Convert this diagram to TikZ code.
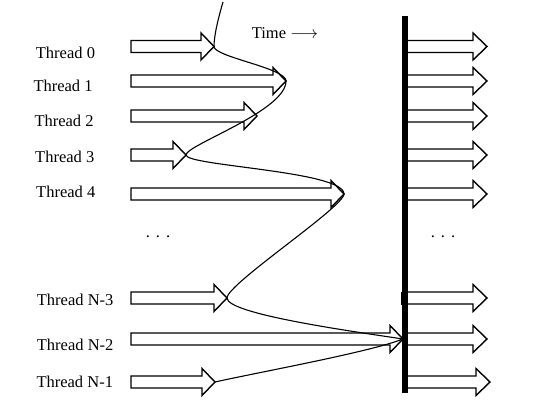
\documentclass[tikz,border=0pt]{standalone}
\usepackage{fontspec}
\setmainfont{Liberation Serif}
\usepackage{tikz}

\begin{document}
\begin{tikzpicture}[x=1pt,y=1pt,
	fat/.style={line width=1.4pt, line join=miter},
	lbl/.style={anchor=base west, inner sep=0pt, font=\fontsize{16.5}{18}\selectfont}]
	\useasboundingbox (0,0) rectangle (534,409);
	
	% the barrier
	\fill (402,16) rectangle (408,393);
	\fill (400.5,104) rectangle (402,117);
	
	% name/centre y/left tip/right tip/label x/label baseline/text
	\foreach \n/\y/\tip/\rtip/\lx/\ly/\txt in {0/362.5/214/487/35.7/350.7/Thread 0,
			1/328/286/487/33.3/317.3/Thread 1,
			2/293/257/487/34.3/282/Thread 2,
			3/254/186/487/35/246/Thread 3,
			4/215/344/487/36/211/Thread 4,
			n3/111/227/487/36.7/103/Thread N-3,
			n2/70/403/487/36.7/59/Thread N-2,
			n1/27/215/490/36.3/22/Thread N-1}
	{
		\draw[fat] (131,\y-6) -- (\tip-13,\y-6) -- (\tip-13,\y-13.5) -- (\tip,\y) -- (\tip-13,\y+13.5) -- (\tip-13,\y+6) -- (131,\y+6) -- cycle;
		\draw[fat] (408,\y-6) -- (\rtip-14,\y-6) -- (\rtip-14,\y-13.5) -- (\rtip,\y) -- (\rtip-14,\y+13.5) -- (\rtip-14,\y+6) -- (408,\y+6);
		\coordinate (tip\n) at (\tip,\y);
		\node[lbl] (lab\n) at (\lx,\ly) {\txt};
	}
	
	\node[lbl] (time) at (251.7,370) {Time $\longrightarrow$};
	\node[lbl, anchor=base] (dotsl) at (158,171) {.\hspace{6pt}.\hspace{6pt}.};
	\node[lbl, anchor=base] (dotsr) at (443,171) {.\hspace{6pt}.\hspace{6pt}.};
	
	% arrival times
	\coordinate (top) at (223,407);
	\draw[line width=1.1pt] (top) .. controls (218,390) and (214,373) .. (tip0)
		.. controls (214,352) and (286,341) .. (tip1)
		.. controls (286,298) and (186,264) .. (tip3)
		.. controls (186,243) and (344,238) .. (tip4)
		.. controls (344,202) and (227,125) .. (tipn3)
		.. controls (227,95) and (350,78) .. (tipn2)
		.. controls (370,57) and (260,37) .. (tipn1);
\end{tikzpicture}
\end{document}
